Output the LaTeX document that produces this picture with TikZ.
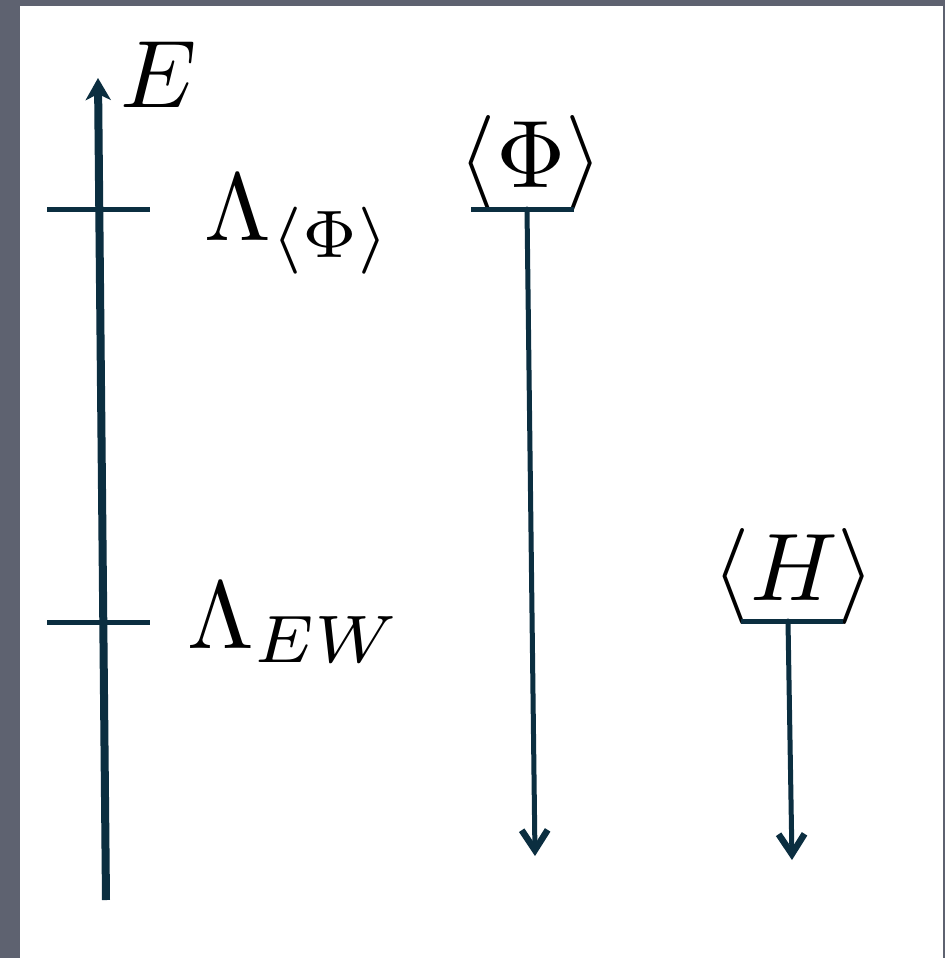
\documentclass[tikz,border=0pt]{standalone}
\usetikzlibrary{arrows.meta}
\definecolor{frame}{HTML}{5E6270}
\definecolor{ink}{HTML}{0B2E40}
\tikzset{
  lbl/.style={inner sep=0pt, anchor=base west, scale=9.6},
  axis/.style={draw=ink, line width=8pt},
  tick/.style={draw=ink, line width=5pt},
  vev/.style={draw=ink, line width=5pt, line cap=round, -{Straight Barb[length=20pt,width=26pt,line width=6.5pt]}},
}
\begin{document}
\begin{tikzpicture}[x=1pt,y=-1pt]
\useasboundingbox (0,0) rectangle (945,958);
\fill[frame] (0,0) rectangle (945,958);
\fill[white] (20,6) rectangle (943,958);
% axis
\coordinate (ax0) at (106,900);
\coordinate (ax1) at (98,78);
\draw[axis, -{Stealth[length=22pt,width=25pt,inset=6pt]}] (ax0) -- (ax1);
\node[lbl] (E) at (119,107) {$E$};
% ticks
\coordinate (t1a) at (47,209); \coordinate (t1b) at (150,209);
\coordinate (t2a) at (47,622); \coordinate (t2b) at (150,622);
\draw[tick] (t1a) -- (t1b);
\draw[tick] (t2a) -- (t2b);
\node[lbl] (LPhi) at (203,240) {$\Lambda_{\langle\Phi\rangle}$};
\node[lbl] (LEW) at (186,648) {$\Lambda_{EW}$};
% <Phi>
\node[lbl] (Phi) at (457,187) {$\langle\Phi\rangle$};
\coordinate (pba) at (471,209); \coordinate (pbb) at (574,209);
\draw[tick] (pba) -- (pbb);
\coordinate (p0) at (527,209); \coordinate (p1) at (535,856);
\draw[vev] (p0) -- (p1);
% <H>
\node[lbl] (H) at (711,600) {$\langle H\rangle$};
\coordinate (hba) at (741,621); \coordinate (hbb) at (843,621);
\draw[tick] (hba) -- (hbb);
\coordinate (h0) at (788,621); \coordinate (h1) at (792,860);
\draw[vev] (h0) -- (h1);
\end{tikzpicture}
\end{document}
